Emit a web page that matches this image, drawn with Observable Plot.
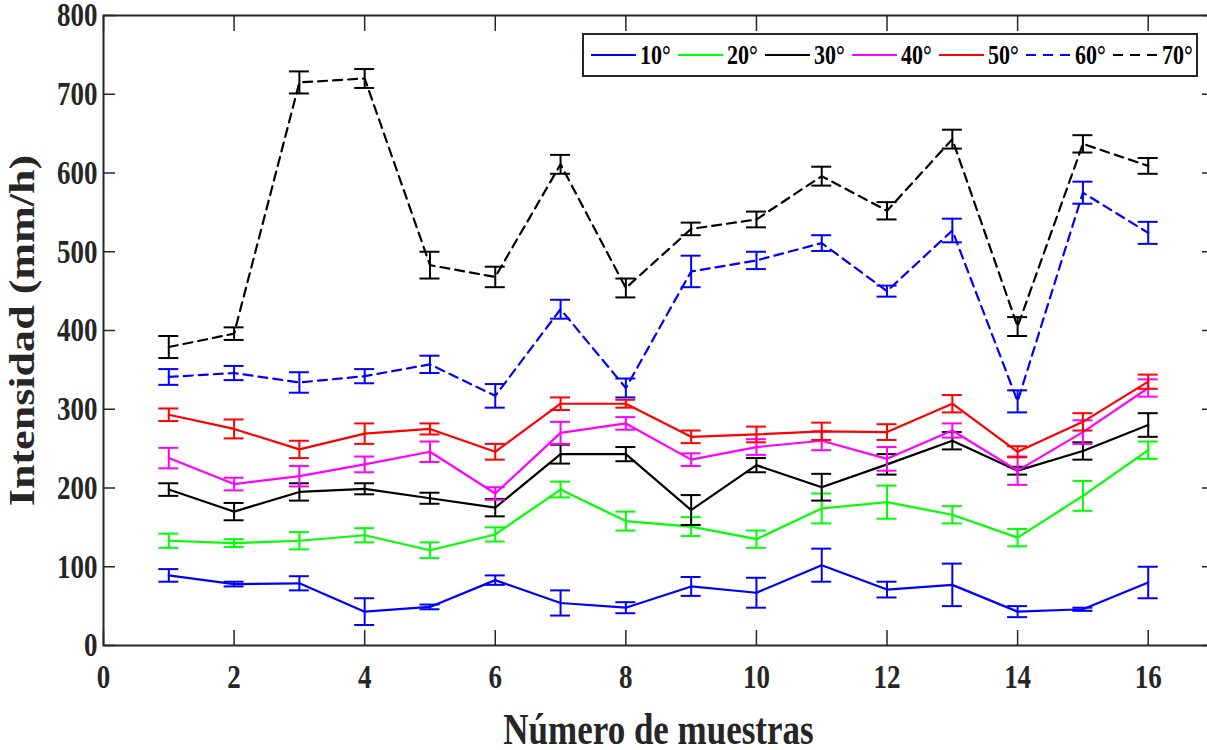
<!DOCTYPE html>
<html>
<head>
<meta charset="utf-8">
<script src="https://cdn.jsdelivr.net/npm/d3@7"></script>
<script src="https://cdn.jsdelivr.net/npm/@observablehq/plot@0.6"></script>
<style>
html, body { margin: 0; padding: 0; background: #fff; overflow: hidden; }
#wrap { position: relative; width: 1207px; height: 750px; }
#legend { position: absolute; left: 582px; top: 33px; width: 616px; height: 44px; box-sizing: border-box;
  border: 2px solid #262626; background: #fff; display: flex; align-items: center; padding-left: 7px; }
.item { display: flex; align-items: center; width: 87px; flex: none; }
.item svg { display: block; }
.item span { font-family: "Liberation Serif", serif; font-weight: bold; font-size: 22px; color: #000;
  margin-left: 4px; display: inline-block; transform: scaleY(1.27); line-height: 1; }
</style>
</head>
<body>
<div id="wrap"><div id="legend"></div></div>
<script>
// ---- data ----
const samples = [1, 2, 3, 4, 5, 6, 7, 8, 9, 10, 11, 12, 13, 14, 15, 16];
const seriesLabels = ["10°", "20°", "30°", "40°", "50°", "60°", "70°"];
const s10 = [89, 78, 79, 43, 49, 83, 54, 48, 75, 67, 102, 71, 77, 43, 46, 80];
const e10 = [8, 3, 9, 17, 3, 6, 16, 7, 12, 19, 21, 10, 27, 7, 2, 20];
const s20 = [133, 130, 133, 140, 121, 141, 198, 158, 151, 135, 174, 182, 166, 137, 190, 248];
const e20 = [9, 5, 11, 9, 10, 9, 10, 12, 12, 11, 19, 21, 11, 11, 19, 11];
const s30 = [198, 170, 195, 199, 187, 175, 243, 243, 172, 229, 201, 230, 260, 222, 247, 280];
const e30 = [8, 11, 11, 7, 7, 11, 12, 9, 19, 9, 17, 13, 11, 5, 11, 15];
const s40 = [238, 205, 215, 230, 246, 193, 270, 282, 236, 252, 260, 237, 273, 222, 271, 327];
const e40 = [13, 8, 13, 10, 13, 8, 14, 8, 8, 10, 12, 15, 9, 18, 15, 11];
const s50 = [293, 275, 249, 269, 275, 246, 307, 307, 265, 268, 272, 271, 307, 246, 284, 335];
const e50 = [8, 12, 11, 13, 7, 10, 8, 5, 8, 10, 11, 10, 11, 7, 11, 9];
const s60 = [341, 346, 334, 342, 357, 317, 427, 327, 475, 489, 511, 450, 527, 310, 575, 524];
const e60 = [10, 9, 13, 9, 11, 15, 12, 12, 20, 11, 10, 7, 15, 14, 14, 14];
const s70 = [379, 396, 715, 720, 483, 468, 611, 454, 529, 541, 596, 552, 643, 405, 637, 609];
const e70 = [14, 8, 14, 12, 17, 13, 12, 12, 8, 10, 12, 11, 12, 12, 11, 10];
const xTicks = [0, 2, 4, 6, 8, 10, 12, 14, 16];
const yTicks = [0, 100, 200, 300, 400, 500, 600, 700, 800];
const xLabel = "Número de muestras";
const yLabel = "Intensidad (mm/h)";

// ---- styles ----
const colors = ["#0000ff", "#00ff00", "#000000", "#ff00ff", "#ff0000", "#0000ff", "#000000"];
const dashed = [false, false, false, false, false, true, true];
const values = [s10, s20, s30, s40, s50, s60, s70];
const errors = [e10, e20, e30, e40, e50, e60, e70];
const DASH = "9,6";
const AX = "#262626";

const marks = [Plot.frame({stroke: AX, strokeWidth: 2})];
values.forEach((vals, i) => {
  const rows = samples.map((x, j) => ({x, y: vals[j], lo: vals[j] - errors[i][j], hi: vals[j] + errors[i][j]}));
  const c = colors[i];
  marks.push(Plot.line(rows, {x: "x", y: "y", stroke: c, strokeWidth: 2.2, strokeDasharray: dashed[i] ? DASH : null}));
  marks.push(Plot.ruleX(rows, {x: "x", y1: "lo", y2: "hi", stroke: c, strokeWidth: 2}));
  marks.push(Plot.ruleY(rows, {x1: "x", x2: "x", y: "lo", insetLeft: -10, insetRight: -10, stroke: c, strokeWidth: 2}));
  marks.push(Plot.ruleY(rows, {x1: "x", x2: "x", y: "hi", insetLeft: -10, insetRight: -10, stroke: c, strokeWidth: 2}));
});
marks.push(
  Plot.axisX(xTicks, {anchor: "bottom", tickSize: -15, tickPadding: 33, fontSize: 27, fontWeight: "bold", label: null, strokeWidth: 1.5}),
  Plot.axisX(xTicks, {anchor: "top", tickSize: -15, tickFormat: () => "", label: null, strokeWidth: 1.5}),
  Plot.axisY(yTicks, {anchor: "left", tickSize: -12, tickPadding: 18, fontSize: 27, fontWeight: "bold", label: null, strokeWidth: 1.5}),
  Plot.axisY(yTicks, {anchor: "right", tickSize: -12, tickFormat: () => "", label: null, strokeWidth: 1.5}),
  Plot.text([xLabel], {text: d => d, frameAnchor: "bottom", textAnchor: "middle", lineAnchor: "middle", dy: 84, fontSize: 35, fontWeight: "bold", fill: AX}),
  Plot.text([yLabel], {text: d => d, frameAnchor: "left", textAnchor: "middle", lineAnchor: "middle", rotate: -90, dx: -81, fontSize: 35, fontWeight: "bold", fill: AX})
);

const chart = Plot.plot({
  width: 1207, height: 750,
  marginLeft: 103, marginTop: 15, marginBottom: 105, marginRight: -6,
  x: {domain: [0, 17]},
  y: {domain: [0, 800]},
  style: {fontFamily: "'Liberation Serif', serif", fontWeight: "bold", color: AX, background: "transparent"},
  marks
});

// stretch text vertically to match the reference's aspect
const K = 1.26;
chart.querySelectorAll("text").forEach(t => {
  const tr = t.getAttribute("transform") || "";
  const sc = /rotate/.test(tr) ? `scale(${K},1)` : `scale(1,${K})`;
  t.setAttribute("transform", `${tr} ${sc}`);
});
chart.style.position = "absolute";
chart.style.left = "0";
chart.style.top = "0";
const wrap = document.getElementById("wrap");
wrap.insertBefore(chart, wrap.firstChild);

// legend
const legend = document.getElementById("legend");
seriesLabels.forEach((lab, i) => {
  const item = document.createElement("div");
  item.className = "item";
  const dash = dashed[i] ? ` stroke-dasharray="10,7"` : "";
  item.innerHTML = `<svg width="45" height="10"><line x1="0" x2="45" y1="5" y2="5" stroke="${colors[i]}" stroke-width="2.2"${dash}/></svg><span>${lab}</span>`;
  legend.appendChild(item);
});
</script>
</body>
</html>
